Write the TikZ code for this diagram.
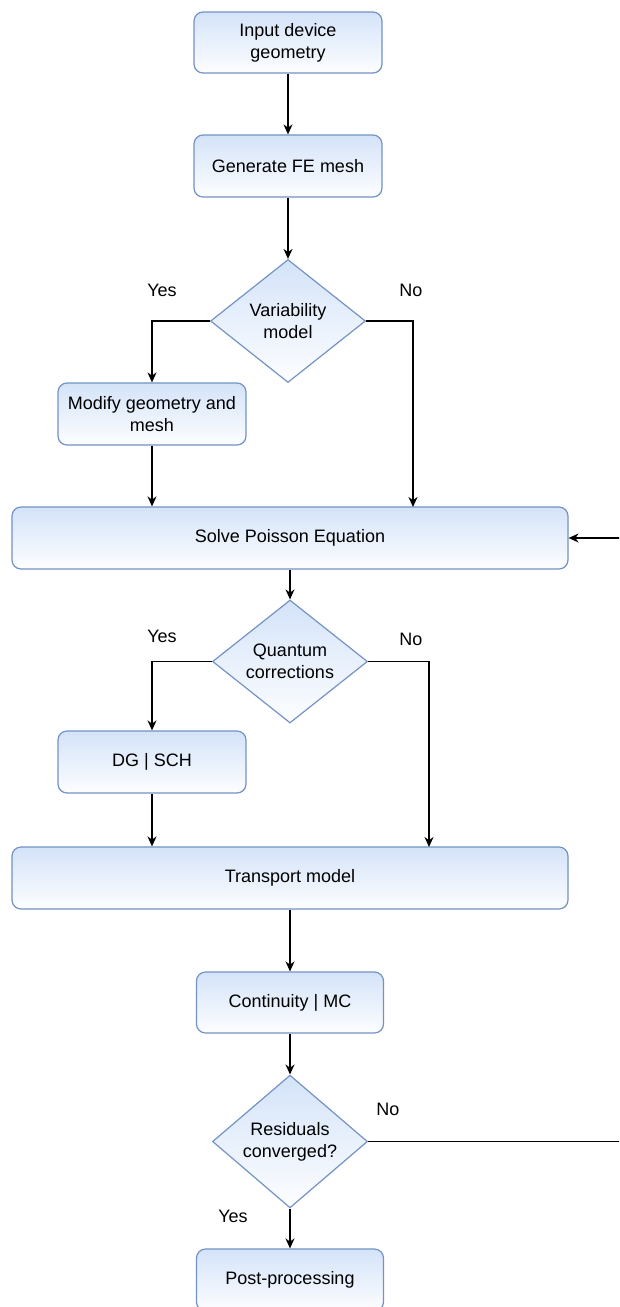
\documentclass[tikz,border=0pt]{standalone}
\usepackage{fontspec}
\setmainfont{Liberation Sans}
\usetikzlibrary{shapes.geometric,arrows.meta}
\definecolor{bfill}{HTML}{D4E3F9}
\definecolor{bline}{HTML}{7393C4}
\tikzset{
  every node/.style={font=\fontsize{18}{22}\selectfont},
  box/.style={draw=bline, line width=1.2pt, rounded corners=9pt, top color=bfill, bottom color=white!95!bfill, align=center, inner sep=0pt},
  dia/.style={diamond, draw=bline, line width=1.2pt, top color=bfill, bottom color=white!95!bfill, align=center, inner sep=0pt, minimum width=155pt, minimum height=123pt},
  arr/.style={-{Stealth[length=10pt,width=9pt]}, line width=1.6pt, black},
  lbl/.style={inner sep=0pt}
}
\begin{document}
\begin{tikzpicture}[x=1pt,y=-1pt]
\clip (0,0) rectangle (619,1307);
\fill[white] (0,0) rectangle (619,1307);

\node[box, minimum width=188pt, minimum height=61pt] (in) at (288,42.5) {Input device\\geometry};
\node[box, minimum width=188pt, minimum height=62pt] (gen) at (288,166) {Generate FE mesh};
\node[dia] (var) at (288,321) {Variability\\model};
\node[box, minimum width=188pt, minimum height=62pt] (mod) at (152,414) {Modify geometry and\\mesh};
\node[box, minimum width=556pt, minimum height=62pt] (sol) at (290,538) {Solve Poisson Equation};
\node[dia] (qc) at (290,661.5) {Quantum\\corrections};
\node[box, minimum width=188pt, minimum height=62pt] (dg) at (152,762) {DG | SCH};
\node[box, minimum width=556pt, minimum height=62pt] (tr) at (290,878) {Transport model};
\node[box, minimum width=187pt, minimum height=61pt] (cont) at (290,1002.5) {Continuity | MC};
\node[dia] (res) at (290,1141.5) {Residuals\\converged?};
\node[box, minimum width=187pt, minimum height=62pt] (post) at (290,1280) {Post-processing};

\node[lbl] (y1) at (162,290) {Yes};
\node[lbl] (n1) at (411,290) {No};
\node[lbl] (y2) at (162,636) {Yes};
\node[lbl] (n2) at (411,639) {No};
\node[lbl] (n3) at (388,1109) {No};
\node[lbl] (y3) at (233,1216) {Yes};

\coordinate (loop) at (640,0);

\draw[arr] (in) -- (gen);
\draw[arr] (gen) -- (var);
\draw[arr] (var.west) -| (mod.north);
\draw[arr] (var.east) -- (413,321) -- (413,507);
\draw[arr] (mod.south) -- (mod.south |- sol.north);
\draw[arr] (sol.south -| qc.north) -- (qc.north);
\draw[arr] (qc.west) -| (dg.north);
\draw[arr] (qc.east) -- (429,661.5) -- (429,847);
\draw[arr] (dg.south) -- (dg.south |- tr.north);
\draw[arr] (tr.south -| cont.north) -- (cont.north);
\draw[arr] (cont.south -| res.north) -- (res.north);
\draw[arr] (res.south) -- (res.south |- post.north);
\draw[arr] (res.east) -- (res.east -| loop) -- (sol.east -| loop) -- (sol.east);
\end{tikzpicture}
\end{document}
